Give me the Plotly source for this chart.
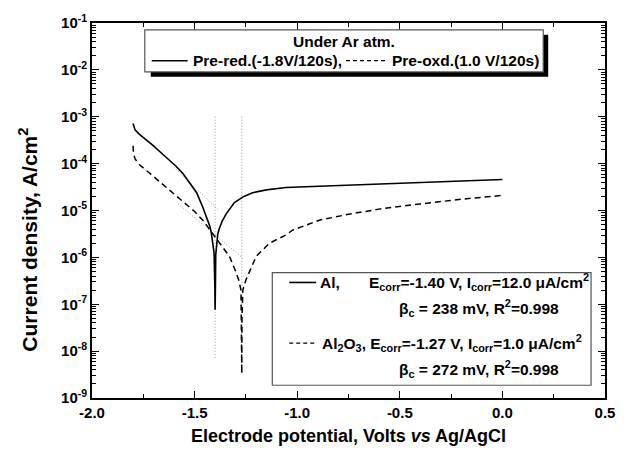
import plotly.graph_objects as go

# Polarization scan of the pre-reduced Al electrode (V vs Ag/AgCl, A/cm2)
al_potential = [-1.800, -1.790, -1.770, -1.740, -1.703, -1.650, -1.589, -1.555, -1.524,
                -1.490, -1.460, -1.440, -1.425, -1.418, -1.410, -1.405, -1.4015, -1.400,
                -1.3985, -1.397, -1.392, -1.387, -1.379, -1.365, -1.346, -1.306, -1.260,
                -1.217, -1.150, -1.055, -0.893, -0.750, -0.602, -0.400, -0.200, 0.000]
al_current = [7.2e-4, 5.25e-4, 4.27e-4, 3.39e-4, 2.45e-4, 1.51e-4, 8.7e-5, 6.0e-5, 3.9e-5,
              2.4e-5, 1.17e-5, 7.1e-6, 4.5e-6, 3.2e-6, 2.0e-6, 1.23e-6, 2.5e-7, 7.6e-8,
              2.5e-7, 1.12e-6, 2.0e-6, 3.2e-6, 4.2e-6, 6.0e-6, 8.5e-6, 1.48e-5, 2.0e-5,
              2.4e-5, 2.75e-5, 3.1e-5, 3.3e-5, 3.5e-5, 3.7e-5, 4.0e-5, 4.3e-5, 4.6e-5]

# Polarization scan of the pre-oxidized (Al2O3) electrode
ox_potential = [-1.800, -1.798, -1.790, -1.777, -1.767, -1.720, -1.654, -1.600, -1.540,
                -1.500, -1.460, -1.411, -1.362, -1.330, -1.298, -1.285, -1.274, -1.272,
                -1.270, -1.269, -1.265, -1.250, -1.233, -1.200, -1.136, -1.055, -1.023,
                -0.893, -0.750, -0.602, -0.400, -0.200, 0.000]
ox_current = [2.4e-4, 1.66e-4, 1.26e-4, 1.02e-4, 9.3e-5, 6.3e-5, 3.6e-5, 2.3e-5, 1.38e-5,
              9.5e-6, 6.2e-6, 3.2e-6, 1.7e-6, 1.05e-6, 4.8e-7, 3.3e-7, 2.0e-7, 6.3e-8,
              3.3e-9, 5.0e-8, 2.0e-7, 3.3e-7, 4.8e-7, 1.05e-6, 2.0e-6, 3.0e-6, 3.8e-6,
              6.2e-6, 8.3e-6, 1.07e-5, 1.38e-5, 1.74e-5, 2.1e-5]

# Tafel fit parameters (E_corr in V, I_corr in A/cm2, beta_c in V/decade)
al_ecorr, al_icorr, al_beta = -1.40, 12.0e-6, 0.238
ox_ecorr, ox_icorr, ox_beta = -1.27, 1.0e-6, 0.272
al_fit_span = [-1.60, -1.379]
ox_fit_span = [-1.58, -1.262]
ecorr_marker_span = [1e-3, 7e-9]

# Axis ticks
x_ticks = [-2.0, -1.5, -1.0, -0.5, 0.0, 0.5]
x_ticklabels = ["-2.0", "-1.5", "-1.0", "-0.5", "0.0", "0.5"]
x_minor = [-1.75, -1.25, -0.75, -0.25, 0.25]
y_exponents = [-9, -8, -7, -6, -5, -4, -3, -2, -1]
y_ticks = [10.0 ** e for e in y_exponents]
y_ticklabels = ["10<sup>%d</sup>" % e for e in y_exponents]
y_minor = [k * 10.0 ** e for e in y_exponents[:-1] for k in range(2, 10)]

FONT = "Liberation Sans"
W, H = 627, 455
L, R, T, B = 92, 607, 15, 398


def fx(x):
    return (x - L) / (R - L)


def fy(y):
    return (B - y) / (B - T)


def tafel(ecorr, icorr, beta, span):
    return [icorr * 10 ** ((ecorr - e) / beta) for e in span]


fig = go.Figure()

dotted = dict(color="#9a9a9a", width=1, dash="1px,2px")
fig.add_trace(go.Scatter(x=al_fit_span, y=tafel(al_ecorr, al_icorr, al_beta, al_fit_span),
                         mode="lines", line=dotted, hoverinfo="skip"))
fig.add_trace(go.Scatter(x=ox_fit_span, y=tafel(ox_ecorr, ox_icorr, ox_beta, ox_fit_span),
                         mode="lines", line=dotted, hoverinfo="skip"))
fig.add_trace(go.Scatter(x=[al_ecorr, al_ecorr], y=ecorr_marker_span,
                         mode="lines", line=dotted, hoverinfo="skip"))
fig.add_trace(go.Scatter(x=[ox_ecorr, ox_ecorr], y=ecorr_marker_span,
                         mode="lines", line=dotted, hoverinfo="skip"))

fig.add_trace(go.Scatter(x=al_potential, y=al_current, mode="lines",
                         line=dict(color="black", width=1.6), name="Al"))
fig.add_trace(go.Scatter(x=ox_potential, y=ox_current, mode="lines",
                         line=dict(color="black", width=1.5, dash="6px,4px"), name="Al2O3"))

tickfont = dict(family=FONT, size=15, color="black", weight="bold")
fig.update_xaxes(range=[-2.0, 0.5], tickmode="array", tickvals=x_ticks, ticktext=x_ticklabels,
                 ticks="inside", ticklen=7, tickwidth=1.3, tickcolor="black",
                 showline=True, linecolor="black", linewidth=1.7, mirror="ticks",
                 showgrid=False, zeroline=False, tickfont=tickfont,
                 minor=dict(tickmode="array", tickvals=x_minor, ticks="inside",
                            ticklen=4, tickwidth=1.2, tickcolor="black", showgrid=False))
fig.update_yaxes(type="log", range=[-9, -1], tickmode="array", tickvals=y_ticks,
                 ticktext=y_ticklabels, ticks="inside", ticklen=7, tickwidth=1.3,
                 tickcolor="black", showline=True, linecolor="black", linewidth=1.7,
                 mirror="ticks", showgrid=False, zeroline=False, tickfont=tickfont,
                 minor=dict(tickmode="array", tickvals=y_minor, ticks="inside",
                            ticklen=4, tickwidth=1, tickcolor="black", showgrid=False))

shapes = []
annotations = []


def text(x, y, s, size=15.5, anchor="left", **kw):
    annotations.append(dict(x=fx(x), y=fy(y), xref="paper", yref="paper", text=s,
                            showarrow=False, xanchor=anchor, yanchor="middle",
                            font=dict(family=FONT, size=size, color="black", weight="bold"),
                            **kw))


def sample(x0, x1, y, dash=None, width=1.6):
    shapes.append(dict(type="line", xref="paper", yref="paper",
                       x0=fx(x0), x1=fx(x1), y0=fy(y), y1=fy(y),
                       line=dict(color="black", width=width, dash=dash)))


def box(x0, y0, x1, y1, fill, line_color, line_width):
    shapes.append(dict(type="rect", xref="paper", yref="paper",
                       x0=fx(x0), x1=fx(x1), y0=fy(y1), y1=fy(y0),
                       fillcolor=fill, line=dict(color=line_color, width=line_width),
                       layer="above"))


# Legend for sample pretreatment (framed, with drop shadow)
box(151, 27, 550, 70, "black", "black", 0)
box(145, 22, 545, 65, "white", "#555555", 1.2)
text(345, 33.5, "Under Ar atm.", anchor="center")
sample(152, 188, 53.5)
text(191, 53.5, "Pre-red.(-1.8V/120s),")
sample(347, 388, 53.5, dash="4px,3px", width=1.3)
text(391, 53.5, "Pre-oxd.(1.0 V/120s)")

# Legend with corrosion parameters
box(273, 270, 593, 385, "white", "#555555", 1.2)
sample(290, 317, 280)
text(319, 280, "Al,", size=15.5)
text(368, 280, "E<sub>corr</sub>=-1.40 V, I<sub>corr</sub>=12.0 μA/cm<sup>2</sup>", size=15.5)
text(398, 306, "β<sub>c</sub> = 238 mV, R<sup>2</sup>=0.998", size=15.5)
sample(290, 317, 342, dash="4px,3px", width=1.3)
text(321, 342, "Al<sub>2</sub>O<sub>3</sub>, E<sub>corr</sub>=-1.27 V, I<sub>corr</sub>=1.0 μA/cm<sup>2</sup>", size=15.5)
text(398, 368, "β<sub>c</sub> = 272 mV, R<sup>2</sup>=0.998", size=15.5)

# Axis titles
text((L + R) / 2, 437, "Electrode potential, Volts <i>vs</i> Ag/AgCl", size=18, anchor="center")
text(28, 236, "Current density, A/cm<sup>2</sup>", size=21, anchor="center", textangle=-90)

fig.update_layout(width=W, height=H, margin=dict(l=L, r=W - R, t=T, b=H - B),
                  paper_bgcolor="white", plot_bgcolor="white", showlegend=False,
                  shapes=shapes, annotations=annotations)

fig.write_html("out.html")
